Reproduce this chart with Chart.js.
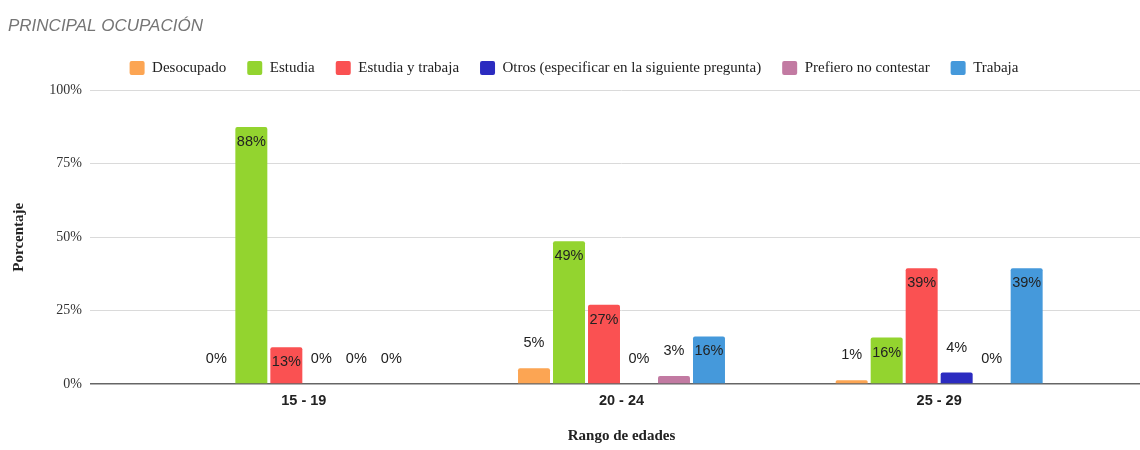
<!DOCTYPE html>
<html>
<head>
<meta charset="utf-8">
<script src="https://cdn.jsdelivr.net/npm/chart.js@4.4.1/dist/chart.umd.min.js"></script>
<style>
    html, body { margin: 0; padding: 0; background: #ffffff; }
    #wrap { width: 1140px; height: 450px; }
</style>
</head>
<body>
<div id="wrap"><canvas id="chart" width="1140" height="450"></canvas></div>
<script>
// Data (percent of respondents per age range)
const categories = ['15 - 19', '20 - 24', '25 - 29'];
const desocupado = [0, 5.4, 1.3];
const estudia = [87.5, 48.6, 15.8];
const estudiaTrabaja = [12.5, 27.0, 39.4];
const otros = [0, 0, 3.9];
const prefiero = [0, 2.7, 0];
const trabaja = [0, 16.2, 39.4];
const yTicks = [0, 25, 50, 75, 100];

const serif = '"Liberation Serif", "Times New Roman", serif';
const sans = '"Liberation Sans", Arial, sans-serif';

// Draw the value labels on / above each bar
const barLabels = {
    id: 'barLabels',
    afterDatasetsDraw(chart) {
        const ctx = chart.ctx;
        ctx.save();
        ctx.font = '14.5px ' + sans;
        ctx.fillStyle = '#222222';
        ctx.textAlign = 'center';
        ctx.textBaseline = 'middle';
        chart.data.datasets.forEach((ds, i) => {
            const meta = chart.getDatasetMeta(i);
            meta.data.forEach((bar, j) => {
                const h = bar.base - bar.y;
                const y = h > 25 ? bar.y + 15 : bar.y - 25;
                ctx.fillText(Math.round(ds.data[j]) + '%', bar.x, y);
            });
        });
        ctx.restore();
    }
};

// Empty box between the legend and the plot, to leave a little more room
const legendGap = {
    id: 'legendGap',
    beforeInit(chart) {
        Chart.layouts.addBox(chart, {
            position: 'top',
            weight: 500,
            fullSize: true,
            options: {},
            top: 0, left: 0, right: 0, bottom: 0, width: 0, height: 0,
            isHorizontal() { return true; },
            update(maxWidth) { this.width = maxWidth; this.height = 5; },
            draw() {}
        });
    }
};

function series(label, data, color) {
    return {
        label: label,
        data: data,
        backgroundColor: color,
        borderWidth: 0,
        borderRadius: 2,
        categoryPercentage: 0.661,
        barPercentage: 0.914
    };
}

const gridColor = ctx => (ctx.tick && ctx.tick.value === 0) ? '#666666' : '#dadada';
const gridWidth = ctx => (ctx.tick && ctx.tick.value === 0) ? 1.5 : 1;

new Chart(document.getElementById('chart').getContext('2d'), {
    type: 'bar',
    data: {
        labels: categories,
        datasets: [
            series('Desocupado', desocupado, '#fca553'),
            series('Estudia', estudia, '#93d42f'),
            series('Estudia y trabaja', estudiaTrabaja, '#fa5152'),
            series('Otros (especificar en la siguiente pregunta)', otros, '#2b2bc0'),
            series('Prefiero no contestar', prefiero, '#c27aa2'),
            series('Trabaja', trabaja, '#4599db')
        ]
    },
    options: {
        responsive: false,
        animation: false,
        layout: { padding: { left: 8, right: 0, top: 0, bottom: 0 } },
        plugins: {
            title: {
                display: true,
                text: 'PRINCIPAL OCUPACIÓN',
                align: 'start',
                color: '#757575',
                font: { family: sans, size: 17, style: 'italic', weight: 'normal' },
                padding: { top: 16, bottom: 3 }
            },
            legend: {
                position: 'top',
                labels: {
                    color: '#222222',
                    font: { family: serif, size: 15 },
                    boxWidth: 15,
                    boxHeight: 14,
                    useBorderRadius: true,
                    borderRadius: 2,
                    padding: 21
                }
            },
            tooltip: { enabled: false }
        },
        scales: {
            x: {
                grid: { display: false, drawTicks: false },
                border: { display: false },
                ticks: {
                    color: '#222222',
                    font: { family: sans, size: 14.5, weight: 'bold' },
                    padding: 8
                },
                title: {
                    display: true,
                    text: 'Rango de edades',
                    color: '#222222',
                    font: { family: serif, size: 15, weight: 'bold' },
                    padding: { top: 0, bottom: 5 }
                },
                afterFit: scale => { scale.height = 66; }
            },
            y: {
                min: 0,
                max: 100,
                afterBuildTicks: scale => { scale.ticks = yTicks.map(v => ({ value: v })); },
                grid: { color: gridColor, lineWidth: gridWidth, tickLength: 55 },
                border: { display: false },
                ticks: {
                    color: '#333333',
                    font: { family: serif, size: 14 },
                    padding: 8,
                    callback: v => v + '%'
                },
                title: {
                    display: true,
                    text: 'Porcentaje',
                    color: '#222222',
                    font: { family: serif, size: 15, weight: 'bold' },
                    padding: { top: 2, bottom: 0 }
                },
                afterFit: scale => { scale.width = 137; }
            },
            yRight: {
                position: 'right',
                min: 0,
                max: 100,
                afterBuildTicks: scale => { scale.ticks = yTicks.map(v => ({ value: v })); },
                grid: { color: gridColor, lineWidth: gridWidth, tickLength: 42, drawOnChartArea: false },
                border: { display: false },
                ticks: { display: false },
                afterFit: scale => { scale.width = 42; }
            }
        }
    },
    plugins: [barLabels, legendGap]
});
</script>
</body>
</html>
